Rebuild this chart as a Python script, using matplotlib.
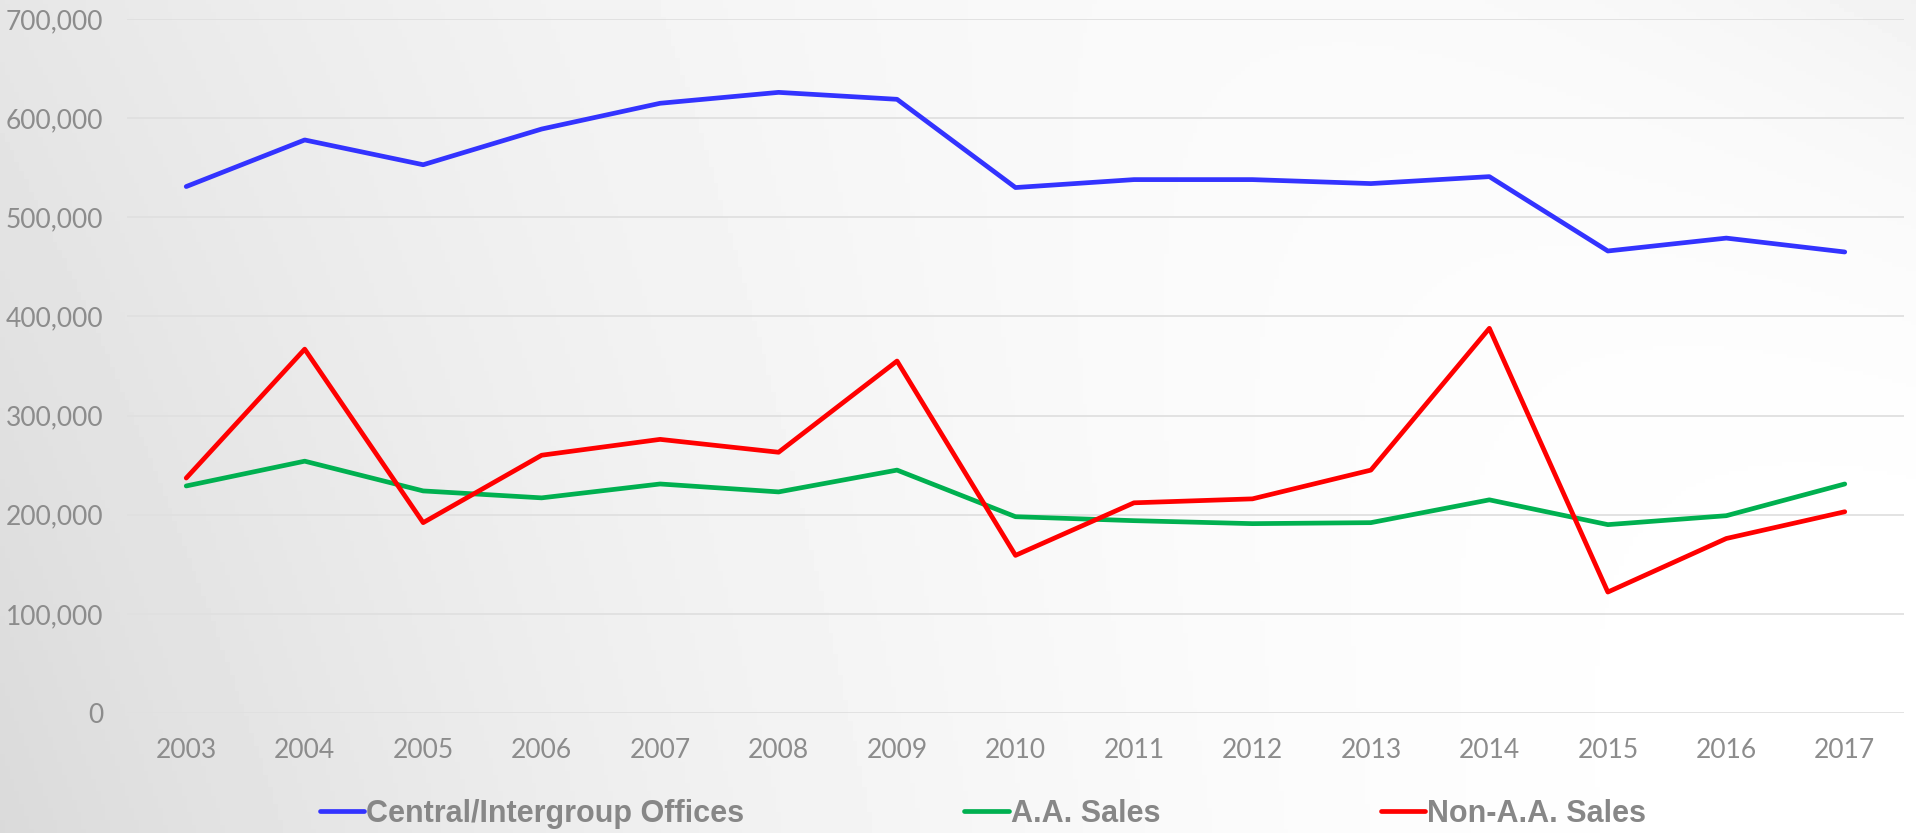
import numpy as np
import matplotlib
matplotlib.use("Agg")
import matplotlib.pyplot as plt

years = ["2003", "2004", "2005", "2006", "2007", "2008", "2009", "2010",
         "2011", "2012", "2013", "2014", "2015", "2016", "2017"]
central = [531000, 578000, 553000, 589000, 615000, 626000, 619000, 530000,
           538000, 538000, 534000, 541000, 466000, 479000, 465000]
aa_sales = [229000, 254000, 224000, 217000, 231000, 223000, 245000, 198000,
            194000, 191000, 192000, 215000, 190000, 199000, 231000]
non_aa = [237000, 367000, 192000, 260000, 276000, 263000, 355000, 159000,
          212000, 216000, 245000, 388000, 122000, 176000, 203000]
y_ticks = [0, 100000, 200000, 300000, 400000, 500000, 600000, 700000]

W, H = 1916, 833
fig = plt.figure(figsize=(W / 100, H / 100), dpi=100)

# soft grey-to-white background, darkest bottom-left
u = np.linspace(0, 1, 400)[None, :]
t = np.linspace(0, 1, 200)[:, None]
dark = 25 * (1 - u) ** 2 + 12 * (1 - u) ** 2 * t + 13 * u ** 4 * (1 - t) ** 3
bg = np.clip(255 - dark, 0, 255) / 255.0
bax = fig.add_axes([0, 0, 1, 1], zorder=-1)
bax.imshow(bg, cmap="gray", vmin=0, vmax=1, aspect="auto", extent=[0, 1, 1, 0])
bax.axis("off")

ax = fig.add_axes([127 / W, 1 - 713 / H, (1904 - 127) / W, (713 - 19) / H])
ax.patch.set_alpha(0)

x = np.arange(len(years))
ax.plot(x, central, color="#3333ff", lw=3.4, solid_capstyle="round", label="Central/Intergroup Offices")
ax.plot(x, aa_sales, color="#00b050", lw=3.4, solid_capstyle="round", label="A.A. Sales")
ax.plot(x, non_aa, color="#ff0000", lw=3.4, solid_capstyle="round", label="Non-A.A. Sales")

ax.set_xlim(-0.5, len(years) - 0.5)
ax.set_ylim(0, 700000)
ax.set_yticks(y_ticks)
ax.set_yticklabels([f"{v:,}" for v in y_ticks])
ax.set_xticks(x)
ax.set_xticklabels(years)
ax.grid(axis="y", color="#e0e0e0", lw=1.3)
ax.set_axisbelow(True)
for s in ax.spines.values():
    s.set_visible(False)
ax.tick_params(length=0, colors="#8c8c8c", labelsize=19)
ax.tick_params(axis="y", pad=17)
ax.tick_params(axis="x", pad=18)
for lab in ax.get_xticklabels() + ax.get_yticklabels():
    lab.set_family(["Lato", "DejaVu Sans"])

leg = fig.legend(loc="center", bbox_to_anchor=(983 / W, 1 - 814 / H), ncol=3,
                 frameon=False, handlelength=1.45, handletextpad=0.08,
                 columnspacing=7.2,
                 prop={"family": ["Liberation Sans Narrow", "Liberation Sans"],
                       "weight": "bold", "size": 22})
for txt in leg.get_texts():
    txt.set_color("#878787")

fig.savefig("out.png", dpi=100)
